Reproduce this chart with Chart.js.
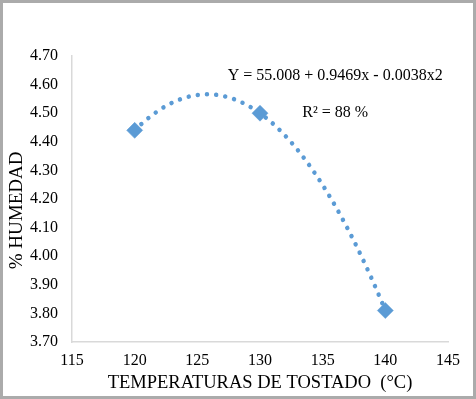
<!DOCTYPE html>
<html>
<head>
<meta charset="utf-8">
<script src="https://cdn.jsdelivr.net/npm/chart.js@4/dist/chart.umd.min.js"></script>
<style>
  html, body { margin: 0; padding: 0; background: #fff; }
  #box { width: 476px; height: 399px; box-sizing: border-box; border: 3px solid #ababab; }
  #box canvas { display: block; }
</style>
</head>
<body>
<div id="box"><canvas id="humChart" width="470" height="393"></canvas></div>
<script>
// temperatures (°C) and measured humidity (%)
const temps = [120, 130, 140];
const humedad = [4.44, 4.50, 3.81];
const xTicks = [115, 120, 125, 130, 135, 140, 145];
const yTicks = [3.70, 3.80, 3.90, 4.00, 4.10, 4.20, 4.30, 4.40, 4.50, 4.60, 4.70];
const equationText = 'Y = 55.008 + 0.9469x - 0.0038x2';
const r2Text = 'R² = 88 %';
const yTitle = '% HUMEDAD';

const blue = '#5b9bd5';
const serif = '"Liberation Serif", "Times New Roman", serif';

// least squares quadratic fit of the data (Excel-like polynomial trendline)
function polyFit2(xs, ys) {
  const n = xs.length;
  const m = xs.reduce((a, b) => a + b, 0) / n;
  let s = [0, 0, 0, 0, 0], t = [0, 0, 0];
  for (let i = 0; i < n; i++) {
    const u = xs[i] - m;
    for (let k = 0; k < 5; k++) s[k] += Math.pow(u, k);
    for (let k = 0; k < 3; k++) t[k] += ys[i] * Math.pow(u, k);
  }
  const A = [[s[0], s[1], s[2]], [s[1], s[2], s[3]], [s[2], s[3], s[4]]];
  const det = M => M[0][0] * (M[1][1] * M[2][2] - M[1][2] * M[2][1])
    - M[0][1] * (M[1][0] * M[2][2] - M[1][2] * M[2][0])
    + M[0][2] * (M[1][0] * M[2][1] - M[1][1] * M[2][0]);
  const D = det(A);
  const c = [0, 1, 2].map(j => det(A.map((row, i) => row.map((v, k) => k === j ? t[i] : v))) / D);
  return x => c[0] + c[1] * (x - m) + c[2] * (x - m) * (x - m);
}
const trend = polyFit2(temps, humedad);

const trendPlugin = {
  id: 'trend',
  beforeDatasetsDraw(chart) {
    const { ctx, scales: { x, y } } = chart;
    ctx.save();
    ctx.strokeStyle = blue;
    ctx.lineWidth = 4.5;
    ctx.lineCap = 'round';
    ctx.setLineDash([0.01, 9.2]);
    ctx.beginPath();
    const x0 = temps[0], x1 = temps[temps.length - 1];
    for (let v = x0; v <= x1 + 1e-9; v += 0.25) {
      const px = x.getPixelForValue(v), py = y.getPixelForValue(trend(v));
      if (v === x0) ctx.moveTo(px, py); else ctx.lineTo(px, py);
    }
    ctx.stroke();
    ctx.restore();
  },
  afterDatasetsDraw(chart) {
    const { ctx, scales: { x, y } } = chart;
    ctx.save();
    ctx.fillStyle = '#000';
    ctx.font = '16px ' + serif;
    ctx.textAlign = 'center';
    ctx.textBaseline = 'middle';
    ctx.fillText(equationText, x.getPixelForValue(136), y.getPixelForValue(4.63));
    ctx.fillText(r2Text, x.getPixelForValue(136), y.getPixelForValue(4.50));
    // y axis title, sitting a little below the middle of the axis
    ctx.font = '19px ' + serif;
    ctx.translate(14, y.getPixelForValue(4.16));
    ctx.rotate(-Math.PI / 2);
    ctx.fillText(yTitle, 0, 0);
    ctx.restore();
  }
};

new Chart(document.getElementById('humChart'), {
  type: 'scatter',
  data: {
    datasets: [{
      data: temps.map((t, i) => ({ x: t, y: humedad[i] })),
      pointStyle: 'rectRot',
      pointRadius: 8,
      pointHoverRadius: 8,
      backgroundColor: blue,
      borderColor: blue,
      borderWidth: 0.5
    }]
  },
  options: {
    responsive: false,
    animation: false,
    events: [],
    layout: { padding: { top: 53, right: 25, left: 0, bottom: 0 } },
    plugins: { legend: { display: false }, tooltip: { enabled: false } },
    scales: {
      x: {
        type: 'linear',
        min: xTicks[0],
        max: xTicks[xTicks.length - 1],
        afterBuildTicks: s => { s.ticks = xTicks.map(v => ({ value: v })); },
        afterFit: s => { s.height = 54; },
        grid: { display: false, drawTicks: false },
        border: { display: true, color: '#d9d9d9', width: 1.5 },
        ticks: { color: '#000', font: { family: serif, size: 16 }, padding: 9 },
        title: {
          display: true,
          text: 'TEMPERATURAS DE TOSTADO  (°C)',
          color: '#000',
          font: { family: serif, size: 18.5 },
          padding: { top: 0, bottom: 2 }
        }
      },
      y: {
        min: yTicks[0],
        max: yTicks[yTicks.length - 1],
        afterBuildTicks: s => { s.ticks = yTicks.map(v => ({ value: v })); },
        afterFit: s => { s.width = 69; },
        grid: { display: false, drawTicks: false },
        border: { display: true, color: '#d9d9d9', width: 1.5 },
        ticks: {
          color: '#000',
          font: { family: serif, size: 16 },
          padding: 14,
          callback: v => v.toFixed(2)
        }
      }
    }
  },
  plugins: [trendPlugin]
});
</script>
</body>
</html>
